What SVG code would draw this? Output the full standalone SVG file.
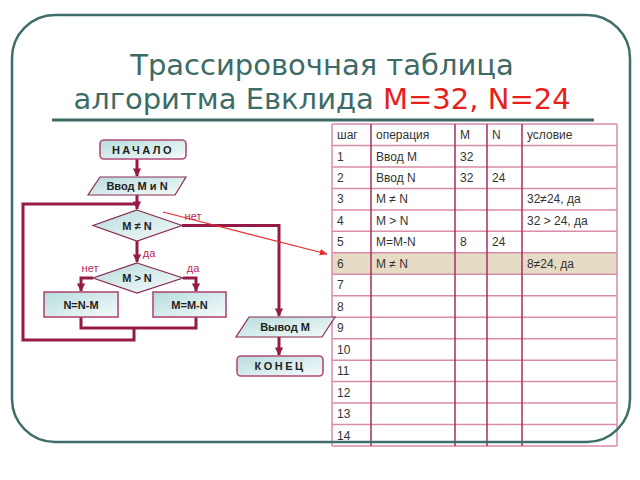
<svg xmlns="http://www.w3.org/2000/svg" width="640" height="480" viewBox="0 0 640 480">
<style>
.title{font-family:"DejaVu Sans",sans-serif;font-size:29px;fill:#3d6b66;text-anchor:middle}
.nt{font-family:"Liberation Sans",Arial,sans-serif;font-size:11px;font-weight:bold;fill:#222;text-anchor:middle}
.lbl{font-family:"Liberation Sans",Arial,sans-serif;font-size:11px;fill:#b8285a;text-anchor:middle}
.tt{font-family:"Liberation Sans",Arial,sans-serif;font-size:12px;fill:#333}
.box{fill:url(#g);stroke:#b04a78;stroke-width:1.6}
.dia{fill:url(#g);stroke:#8a2a50;stroke-width:1.2}
.con{fill:none;stroke:#961a48;stroke-width:3}
.hl{stroke:#d98ca8;stroke-width:1.5}
.vl{stroke:#a82c5c;stroke-width:1.5}
</style>
<defs>
<linearGradient id="g" x1="0" y1="0" x2="1" y2="1">
<stop offset="0" stop-color="#b6dcdc"/>
<stop offset="1" stop-color="#f6fbfb"/>
</linearGradient>
<marker id="ah" viewBox="0 0 10 10" refX="9" refY="5" markerWidth="2.8" markerHeight="2.8" orient="auto" markerUnits="strokeWidth">
<path d="M0,0 L10,5 L0,10 z" fill="#961a48"/>
</marker>
<marker id="rh" viewBox="0 0 10 10" refX="9" refY="5" markerWidth="8" markerHeight="8" orient="auto" markerUnits="userSpaceOnUse">
<path d="M0,1 L10,5 L0,9 z" fill="#e82a2a"/>
</marker>
</defs>
<rect width="640" height="480" fill="#fff"/>

<text class="title" x="322" y="75">Трассировочная таблица</text>
<text class="title" x="322" y="109">алгоритма Евклида <tspan fill="#e8201c">M=32, N=24</tspan></text>
<line x1="52" y1="120" x2="594" y2="120" stroke="#3d6b66" stroke-width="3"/>

<g id="table">
<rect x="332" y="252.8" width="285" height="21.5" fill="#e6dcc6"/>
<g class="hl">
<line x1="332" y1="124" x2="617" y2="124"/>
<line x1="332" y1="145.5" x2="617" y2="145.5"/>
<line x1="332" y1="166.9" x2="617" y2="166.9"/>
<line x1="332" y1="188.4" x2="617" y2="188.4"/>
<line x1="332" y1="209.9" x2="617" y2="209.9"/>
<line x1="332" y1="231.3" x2="617" y2="231.3"/>
<line x1="332" y1="252.8" x2="617" y2="252.8"/>
<line x1="332" y1="274.3" x2="617" y2="274.3"/>
<line x1="332" y1="295.8" x2="617" y2="295.8"/>
<line x1="332" y1="317.2" x2="617" y2="317.2"/>
<line x1="332" y1="338.7" x2="617" y2="338.7"/>
<line x1="332" y1="360.2" x2="617" y2="360.2"/>
<line x1="332" y1="381.6" x2="617" y2="381.6"/>
<line x1="332" y1="403.1" x2="617" y2="403.1"/>
<line x1="332" y1="424.6" x2="617" y2="424.6"/>
<line x1="332" y1="446" x2="617" y2="446"/>
<line x1="332" y1="124" x2="332" y2="446"/>
<line x1="617" y1="124" x2="617" y2="446"/>
</g>
<g class="vl">
<line x1="371" y1="124" x2="371" y2="446"/>
<line x1="455" y1="124" x2="455" y2="446"/>
<line x1="487" y1="124" x2="487" y2="446"/>
<line x1="522" y1="124" x2="522" y2="446"/>
</g>
<g class="tt">
<text x="337" y="139">шаг</text><text x="376" y="139">операция</text><text x="460" y="139">M</text><text x="492" y="139">N</text><text x="527" y="139">условие</text>
<text x="337" y="160.5">1</text><text x="376" y="160.5">Ввод M</text><text x="460" y="160.5">32</text>
<text x="337" y="182">2</text><text x="376" y="182">Ввод N</text><text x="460" y="182">32</text><text x="492" y="182">24</text>
<text x="337" y="203.4">3</text><text x="376" y="203.4">M ≠ N</text><text x="527" y="203.4">32≠24, да</text>
<text x="337" y="224.9">4</text><text x="376" y="224.9">M &gt; N</text><text x="527" y="224.9">32 &gt; 24, да</text>
<text x="337" y="246.3">5</text><text x="376" y="246.3">M=M-N</text><text x="460" y="246.3">8</text><text x="492" y="246.3">24</text>
<text x="337" y="267.8">6</text><text x="376" y="267.8">M ≠ N</text><text x="527" y="267.8">8≠24, да</text>
<text x="337" y="289.3">7</text>
<text x="337" y="310.8">8</text>
<text x="337" y="332.2">9</text>
<text x="337" y="353.7">10</text>
<text x="337" y="375.2">11</text>
<text x="337" y="396.6">12</text>
<text x="337" y="418.1">13</text>
<text x="337" y="439.6">14</text>
</g>
</g>

<rect x="12" y="15" width="618" height="427" rx="43" fill="none" stroke="#3f6e6a" stroke-width="2.5"/>

<g id="connectors">
<path class="con" d="M137,159 V176" marker-end="url(#ah)"/>
<path class="con" d="M137,195 V204"/>
<path class="con" d="M81,317 V328 H196 V317 M134,328 V340 H23 V204 H137"/>
<path class="con" d="M137,204 V209" marker-end="url(#ah)"/>
<path class="con" d="M137,241 V262" marker-end="url(#ah)"/>
<path class="con" d="M93,278 H81 V291" marker-end="url(#ah)"/>
<path class="con" d="M183,278 H196 V291" marker-end="url(#ah)"/>
<path class="con" d="M182,225.5 H279 V316" marker-end="url(#ah)"/>
<path class="con" d="M279,337 V355" marker-end="url(#ah)"/>
<line x1="163" y1="212" x2="327" y2="254" stroke="#e82a2a" stroke-width="1.2" marker-end="url(#rh)"/>
<text class="lbl" x="193" y="220">нет</text>
<text class="lbl" x="149" y="257">да</text>
<text class="lbl" x="90" y="272">нет</text>
<text class="lbl" x="193" y="272">да</text>
</g>

<g id="start">
<rect class="box" x="100" y="140" width="86" height="19" rx="4"/>
<text class="nt" x="143" y="153.5" letter-spacing="2.5">НАЧАЛО</text>
</g>
<g id="input">
<polygon class="dia" points="100,177 186,177 175,195 88,195"/>
<text class="nt" x="137" y="190">Ввод M и N</text>
</g>
<g id="cond1">
<polygon class="dia" points="137,210 182,225.5 137,241 93,225.5"/>
<text class="nt" x="137" y="229.5">M ≠ N</text>
</g>
<g id="cond2">
<polygon class="dia" points="137,263 183,278 137,293 93,278"/>
<text class="nt" x="137" y="282">M &gt; N</text>
</g>
<g id="nnm">
<rect class="box" x="44" y="292" width="74" height="25"/>
<text class="nt" x="81" y="308.5">N=N-M</text>
</g>
<g id="mmn">
<rect class="box" x="153" y="292" width="73" height="25"/>
<text class="nt" x="189.5" y="308.5">M=M-N</text>
</g>
<g id="output">
<polygon class="dia" points="249,317 335,317 322,337 236,337"/>
<text class="nt" x="285" y="331">Вывод M</text>
</g>
<g id="end">
<rect class="box" x="237" y="356" width="86" height="20" rx="4"/>
<text class="nt" x="280" y="370" letter-spacing="2.5">КОНЕЦ</text>
</g>
</svg>
